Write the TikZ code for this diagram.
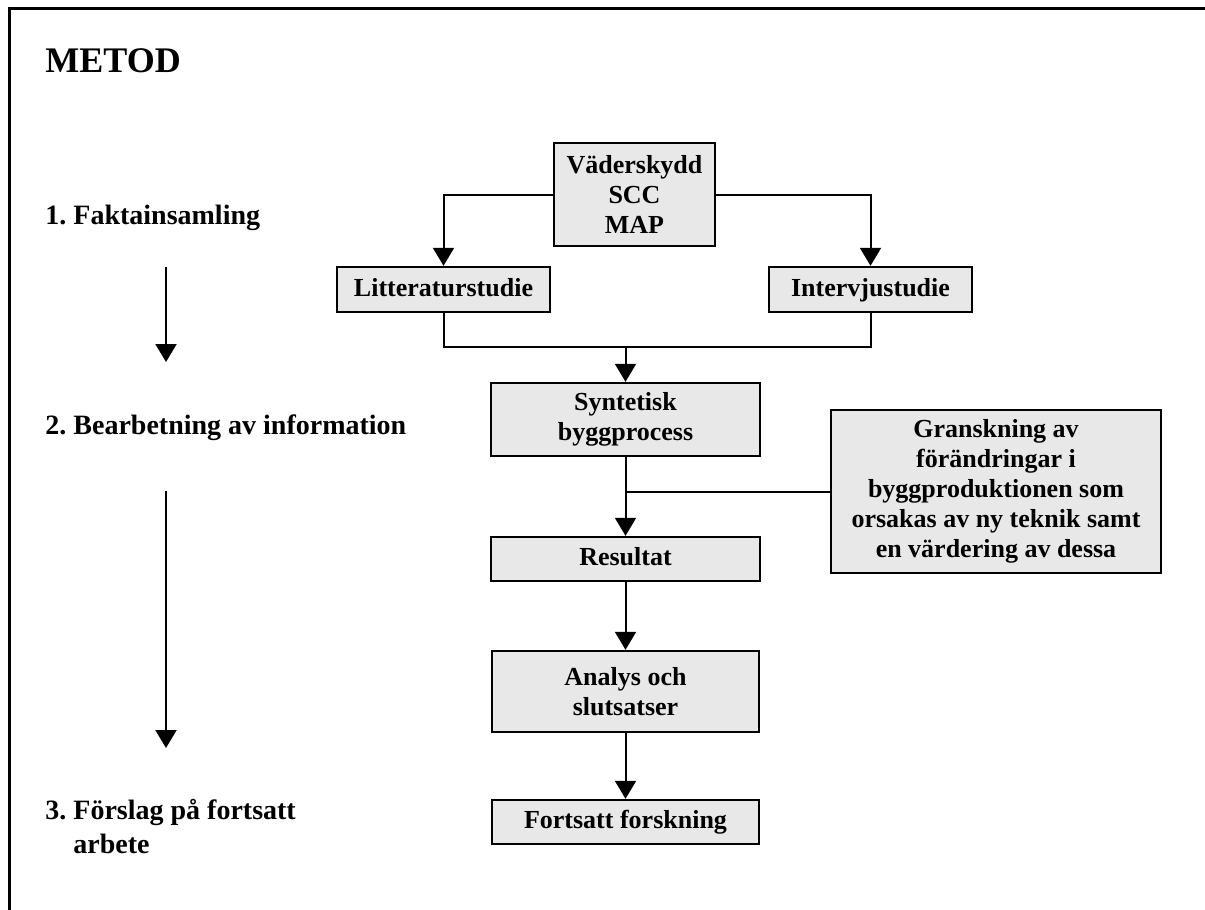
\documentclass[tikz,border=0pt]{standalone}
\usepackage{fontspec}
\setmainfont{Liberation Serif}
\usetikzlibrary{arrows.meta}
\definecolor{boxgray}{HTML}{E8E8E8}
\frenchspacing

\begin{document}
\begin{tikzpicture}[x=0.5pt, y=-0.5pt]
        \tikzstyle{stage}=[draw, line width=1.2pt, fill=boxgray, align=center, inner sep=0pt, font=\bfseries\fontsize{13}{15}\selectfont]
        \tikzstyle{oneline}=[stage, text height=9.5pt, text depth=3pt]
        \tikzstyle{phase}=[anchor=base west, inner sep=0pt, align=left, font=\bfseries\fontsize{14}{17}\selectfont]
        \tikzstyle{flow}=[line width=1pt, -{Triangle[width=10.5pt,length=9pt]}]

        \useasboundingbox (0,0) rectangle (1205,910);
        \draw[line width=1.5pt] (9,910) -- (9,8) -- (1205,8);

        \node[phase, font=\bfseries\fontsize{18}{21}\selectfont] (title) at (45,72) {METOD};
        \node[phase] (P_1) at (45,224) {1. Faktainsamling};
        \node[phase] (P_2) at (45,434) {2. Bearbetning av information};
        \node[phase] (P_3) at (45,853) {3. Förslag på fortsatt\\\hphantom{3. }arbete};

        \coordinate (A_1s) at (166,267);
        \coordinate (A_1e) at (166,362);
        \coordinate (A_2s) at (166,491);
        \coordinate (A_2e) at (166,748);
        \draw[flow] (A_1s) -- (A_1e);
        \draw[flow] (A_2s) -- (A_2e);

        \node[stage, minimum width=80.5pt, minimum height=51.5pt] (vader) at (634.5,194.5) {Väderskydd\\SCC\\MAP};
        \node[oneline, minimum width=106.5pt, minimum height=22.5pt] (litt) at (443.5,289.5) {Litteraturstudie};
        \node[oneline, minimum width=101.5pt, minimum height=22.5pt] (interv) at (870.5,289.5) {Intervjustudie};
        \node[stage, minimum width=134.5pt, minimum height=36.5pt] (synt) at (625.5,419.5) {Syntetisk\\byggprocess};
        \node[stage, minimum width=165pt, minimum height=81.5pt] (gransk) at (996,491.5) {Granskning av\\förändringar i\\byggproduktionen som\\orsakas av ny teknik samt\\en värdering av dessa};
        \node[oneline, minimum width=134.5pt, minimum height=22pt] (result) at (625.5,559) {Resultat};
        \node[stage, minimum width=133.5pt, minimum height=40.5pt] (analys) at (625.5,691.5) {Analys och\\slutsatser};
        \node[oneline, minimum width=133.5pt, minimum height=22pt] (fortsatt) at (625.5,822) {Fortsatt forskning};

        \coordinate (join) at (625.5,347);
        \draw[flow] (vader.west) -| (litt.north);
        \draw[flow] (vader.east) -| (interv.north);
        \draw[line width=1pt] (litt.south) |- (join) -| (interv.south);
        \draw[flow] (join) -- (synt.north);
        \draw[flow] (synt.south) -- (result.north);
        \draw[line width=1pt] (gransk.west) -- (gransk.west -| synt.south);
        \draw[flow] (result.south) -- (analys.north);
        \draw[flow] (analys.south) -- (fortsatt.north);
\end{tikzpicture}
\end{document}
